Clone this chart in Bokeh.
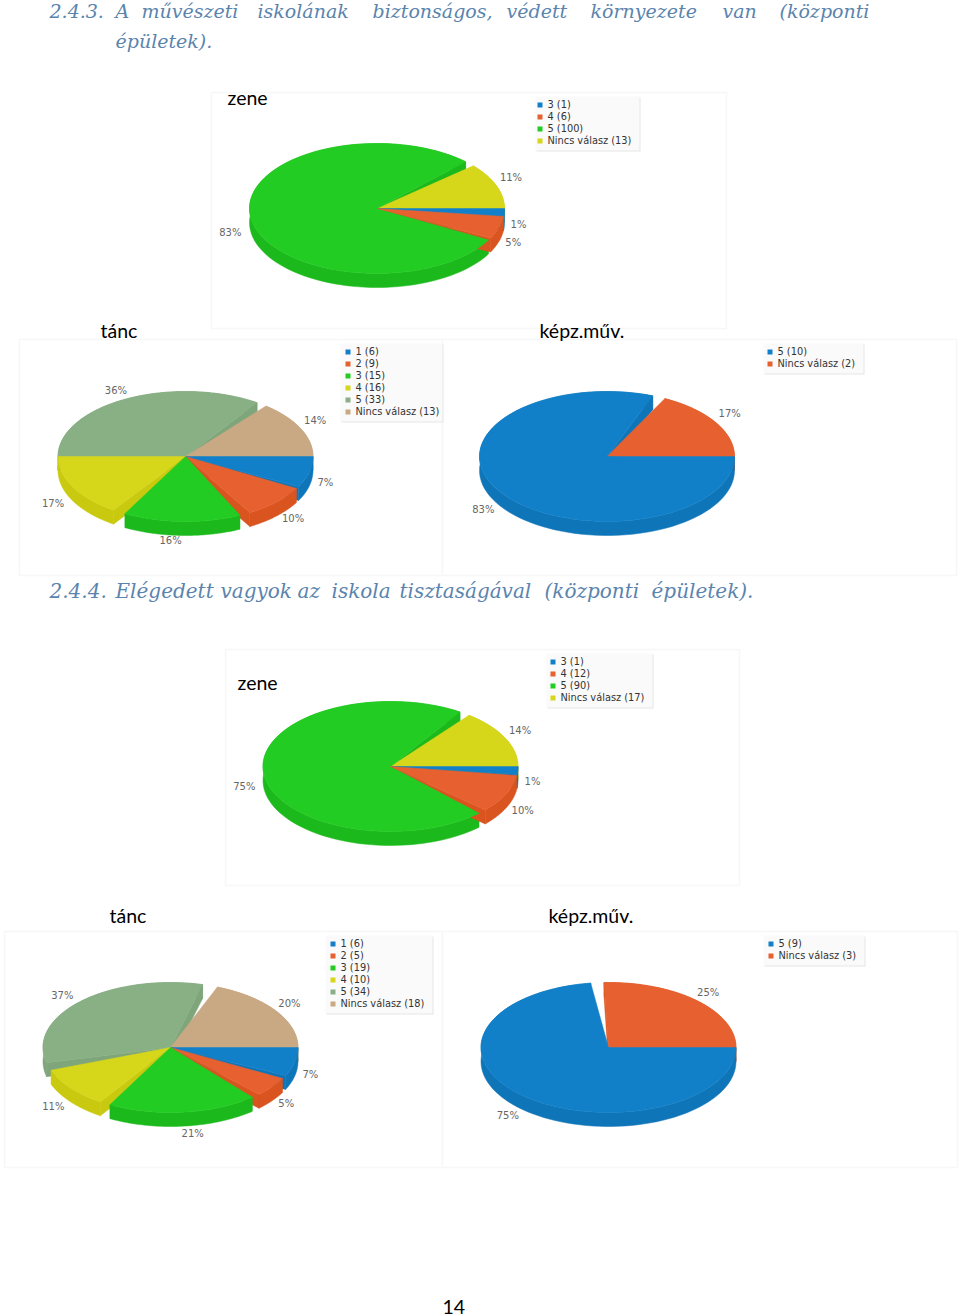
import numpy as np
from bokeh.plotting import figure
from bokeh.core.properties import value
from bokeh.embed import file_html
from bokeh.resources import INLINE

# ---- data ----
zene1_names = ["3 (1)", "4 (6)", "5 (100)", "Nincs válasz (13)"]
zene1_values = [1, 6, 100, 13]
tanc1_names = ["1 (6)", "2 (9)", "3 (15)", "4 (16)", "5 (33)", "Nincs válasz (13)"]
tanc1_values = [6, 9, 15, 16, 33, 13]
kepz1_names = ["5 (10)", "Nincs válasz (2)"]
kepz1_values = [10, 2]
zene2_names = ["3 (1)", "4 (12)", "5 (90)", "Nincs válasz (17)"]
zene2_values = [1, 12, 90, 17]
tanc2_names = ["1 (6)", "2 (5)", "3 (19)", "4 (10)", "5 (34)", "Nincs válasz (18)"]
tanc2_values = [6, 5, 19, 10, 34, 18]
kepz2_names = ["5 (9)", "Nincs válasz (3)"]
kepz2_values = [9, 3]

# ---- style ----
TOP = ["#1280c8", "#e76130", "#23cc22", "#d6d61a", "#88b084", "#c8a983"]
SIDE = ["#0f75b9", "#d9541f", "#1cb91c", "#c9c90f", "#7fa57b", "#bb9c76"]
HEAD = "#5a84ad"
RX, RY, DEPTH = 127.5, 65, 14

p = figure(width=968, height=1324, x_range=(-8, 960), y_range=(1316, -8),
           output_backend="svg", toolbar_location=None, min_border=0,
           margin=(-8, 0, 0, -8))
p.axis.visible = False
p.grid.visible = False
p.outline_line_color = None


def card(x0, x1, y0, y1):
    p.quad(left=[x0], right=[x1], top=[y0], bottom=[y1], fill_color="white",
           line_color="#f7f7f7", line_width=1.5)


def pie(cx, cy, values, shifts):
    vals = np.array(values, float)
    edges = np.concatenate([[0], np.cumsum(vals)]) / vals.sum() * 360
    order = np.argsort([np.sin(np.radians((edges[i] + edges[i + 1]) / 2)) for i in range(len(vals))])
    # walls first, so that every top face lies over them
    for i in order:
        a0 = edges[i] + shifts[i][0]
        a1 = edges[i + 1] + shifts[i][1]
        t = np.radians(np.linspace(a0, a1, 90))
        ax = cx + RX * np.cos(t)
        ay = cy + RY * np.sin(t)
        if np.cos(np.radians(a0)) < 0:
            p.patch([cx, ax[0], ax[0], cx], [cy, ay[0], ay[0] + DEPTH, cy + DEPTH],
                    fill_color=SIDE[i], line_color=SIDE[i], line_width=0.5)
        if np.cos(np.radians(a1)) > 0:
            p.patch([cx, ax[-1], ax[-1], cx], [cy, ay[-1], ay[-1] + DEPTH, cy + DEPTH],
                    fill_color=SIDE[i], line_color=SIDE[i], line_width=0.5)
        p.patch(np.r_[ax, ax[::-1]], np.r_[ay, ay[::-1] + DEPTH],
                fill_color=SIDE[i], line_color=SIDE[i], line_width=0.5)
    for i in order:
        t = np.radians(np.linspace(edges[i] + shifts[i][0], edges[i + 1] + shifts[i][1], 90))
        p.patch(np.r_[cx, cx + RX * np.cos(t)], np.r_[cy, cy + RY * np.sin(t)],
                fill_color=TOP[i], line_color=TOP[i], line_width=0.5)


def pct_labels(cx, cy, values, tweaks):
    vals = np.array(values, float)
    edges = np.concatenate([[0], np.cumsum(vals)]) / vals.sum() * 360
    for i, v in enumerate(vals):
        m = np.radians((edges[i] + edges[i + 1]) / 2)
        x = cx + (128 + 20) * np.cos(m) + tweaks[i][0]
        y = cy + (RY + 20) * np.sin(m) + tweaks[i][1] + (DEPTH if np.sin(m) > 0 else 0)
        p.text([x], [y], text=[f"{round(v / vals.sum() * 100)}%"], text_font=value("DejaVu Sans"),
               text_font_size="10px", text_color="#666666", text_align="center", text_baseline="middle")


def legend(x0, y0, x1, tx, names):
    y1 = y0 + 6 + 12 * len(names)
    p.quad(left=[x0 + 1], right=[x1 + 1], top=[y0 + 1], bottom=[y1 + 1], fill_color="#e6e6e6", line_color=None)
    p.quad(left=[x0], right=[x1], top=[y0], bottom=[y1], fill_color="#fafafa", line_color=None)
    for i, n in enumerate(names):
        yy = y0 + 8 + 12 * i
        p.quad(left=[tx - 10], right=[tx - 5], top=[yy - 2], bottom=[yy + 3], fill_color=TOP[i], line_color=None)
        p.text([tx], [yy], text=[n], text_font=value("DejaVu Sans"), text_font_size="9.8px",
               text_color="#333333", text_baseline="middle")


def words(y, items, size="19px"):
    for x, w in items:
        p.text([x], [y], text=[w], text_font=value("DejaVu Serif"), text_font_style="italic",
               text_font_size=size, text_color=HEAD, text_baseline="alphabetic")


def caption(x, y, s, size="19.5px"):
    p.text([x], [y], text=[s], text_font=value("Lato"), text_font_size=size, text_color="black",
           text_baseline="alphabetic")


# cards
card(211, 726, 92, 328)
card(19, 442, 339, 575)
card(442, 956, 339, 575)
card(225, 739, 649, 885)
card(4, 442, 931, 1167)
card(442, 957, 931, 1167)

# pies: per-slice angle adjustments (start, end) for slice gaps
Z0 = [(0, 4), (4, 6), (8, -7), (-2, 0)]
T0 = [(0, 4), (6, 1), (6, 1), (7, 0), (0, -5), (0, 0)]
K0 = [(0, -9), (-3, 0)]
Z1 = [(0, 4), (5, 3), (7, -6), (-1, 0)]
T1 = [(0, 2), (5, 3), (7, 1), (6, 3), (10, -5), (2, 0)]
K1 = [(0, -8), (-2, 0)]

pie(376.5, 208, zene1_values, Z0)
pie(185, 456, tanc1_values, T0)
pie(606.5, 456, kepz1_values, K0)
pie(390, 766, zene2_values, Z1)
pie(170, 1047, tanc2_values, T1)
pie(608, 1047, kepz2_values, K1)

# percent labels: offsets from the slice's mid-angle anchor
pct_labels(377, 208, zene1_values, [(-7, 0), (-9, 2), (-1, -3), (-6, -3)])
pct_labels(185, 456, tanc1_values, [(-5, -5), (-4, -8), (-20, -15), (-6, -11), (-6, 11), (-4, 1)])
pct_labels(607, 456, kepz1_values, [(4, -4), (-6, -1)])
pct_labels(390, 766, zene2_values, [(-6, -1), (-6, 0), (1, -3), (-4, 1)])
pct_labels(170, 1047, tanc2_values, [(-5, -4), (-8, -5), (-3, -12), (-9, -13), (0, 6), (-2, 5)])
pct_labels(608, 1047, kepz2_values, [(4, -6), (-5, 5)])

legend(535, 96, 639, 547, zene1_names)
legend(340, 343, 442, 355, tanc1_names)
legend(763, 343, 863, 777, kepz1_names)
legend(546, 653, 652, 560, zene2_names)
legend(325, 935, 432, 340, tanc2_names)
legend(763, 935, 864, 778, kepz2_names)

# captions
caption(227, 97, "zene")
caption(100, 330, "tánc")
caption(539, 330, "képz.műv.")
caption(237, 682, "zene")
caption(109, 915, "tánc")
caption(548, 915, "képz.műv.")
caption(442, 1306, "14")

# headings
words(10, [(49, "2.4.3."), (115, "A"), (141, "művészeti"), (257, "iskolának"), (372, "biztonságos,"),
           (506, "védett"), (590, "környezete"), (722, "van"), (779, "(központi")])
words(40, [(115, "épületek).")])
words(590, [(49, "2.4.4."), (115, "Elégedett"), (220, "vagyok"), (297, "az"), (331, "iskola"), (399, "tisztaságával"),
            (544, "(központi"), (651, "épületek).")], size="20px")

open("out.html", "w").write(file_html(p, INLINE))
